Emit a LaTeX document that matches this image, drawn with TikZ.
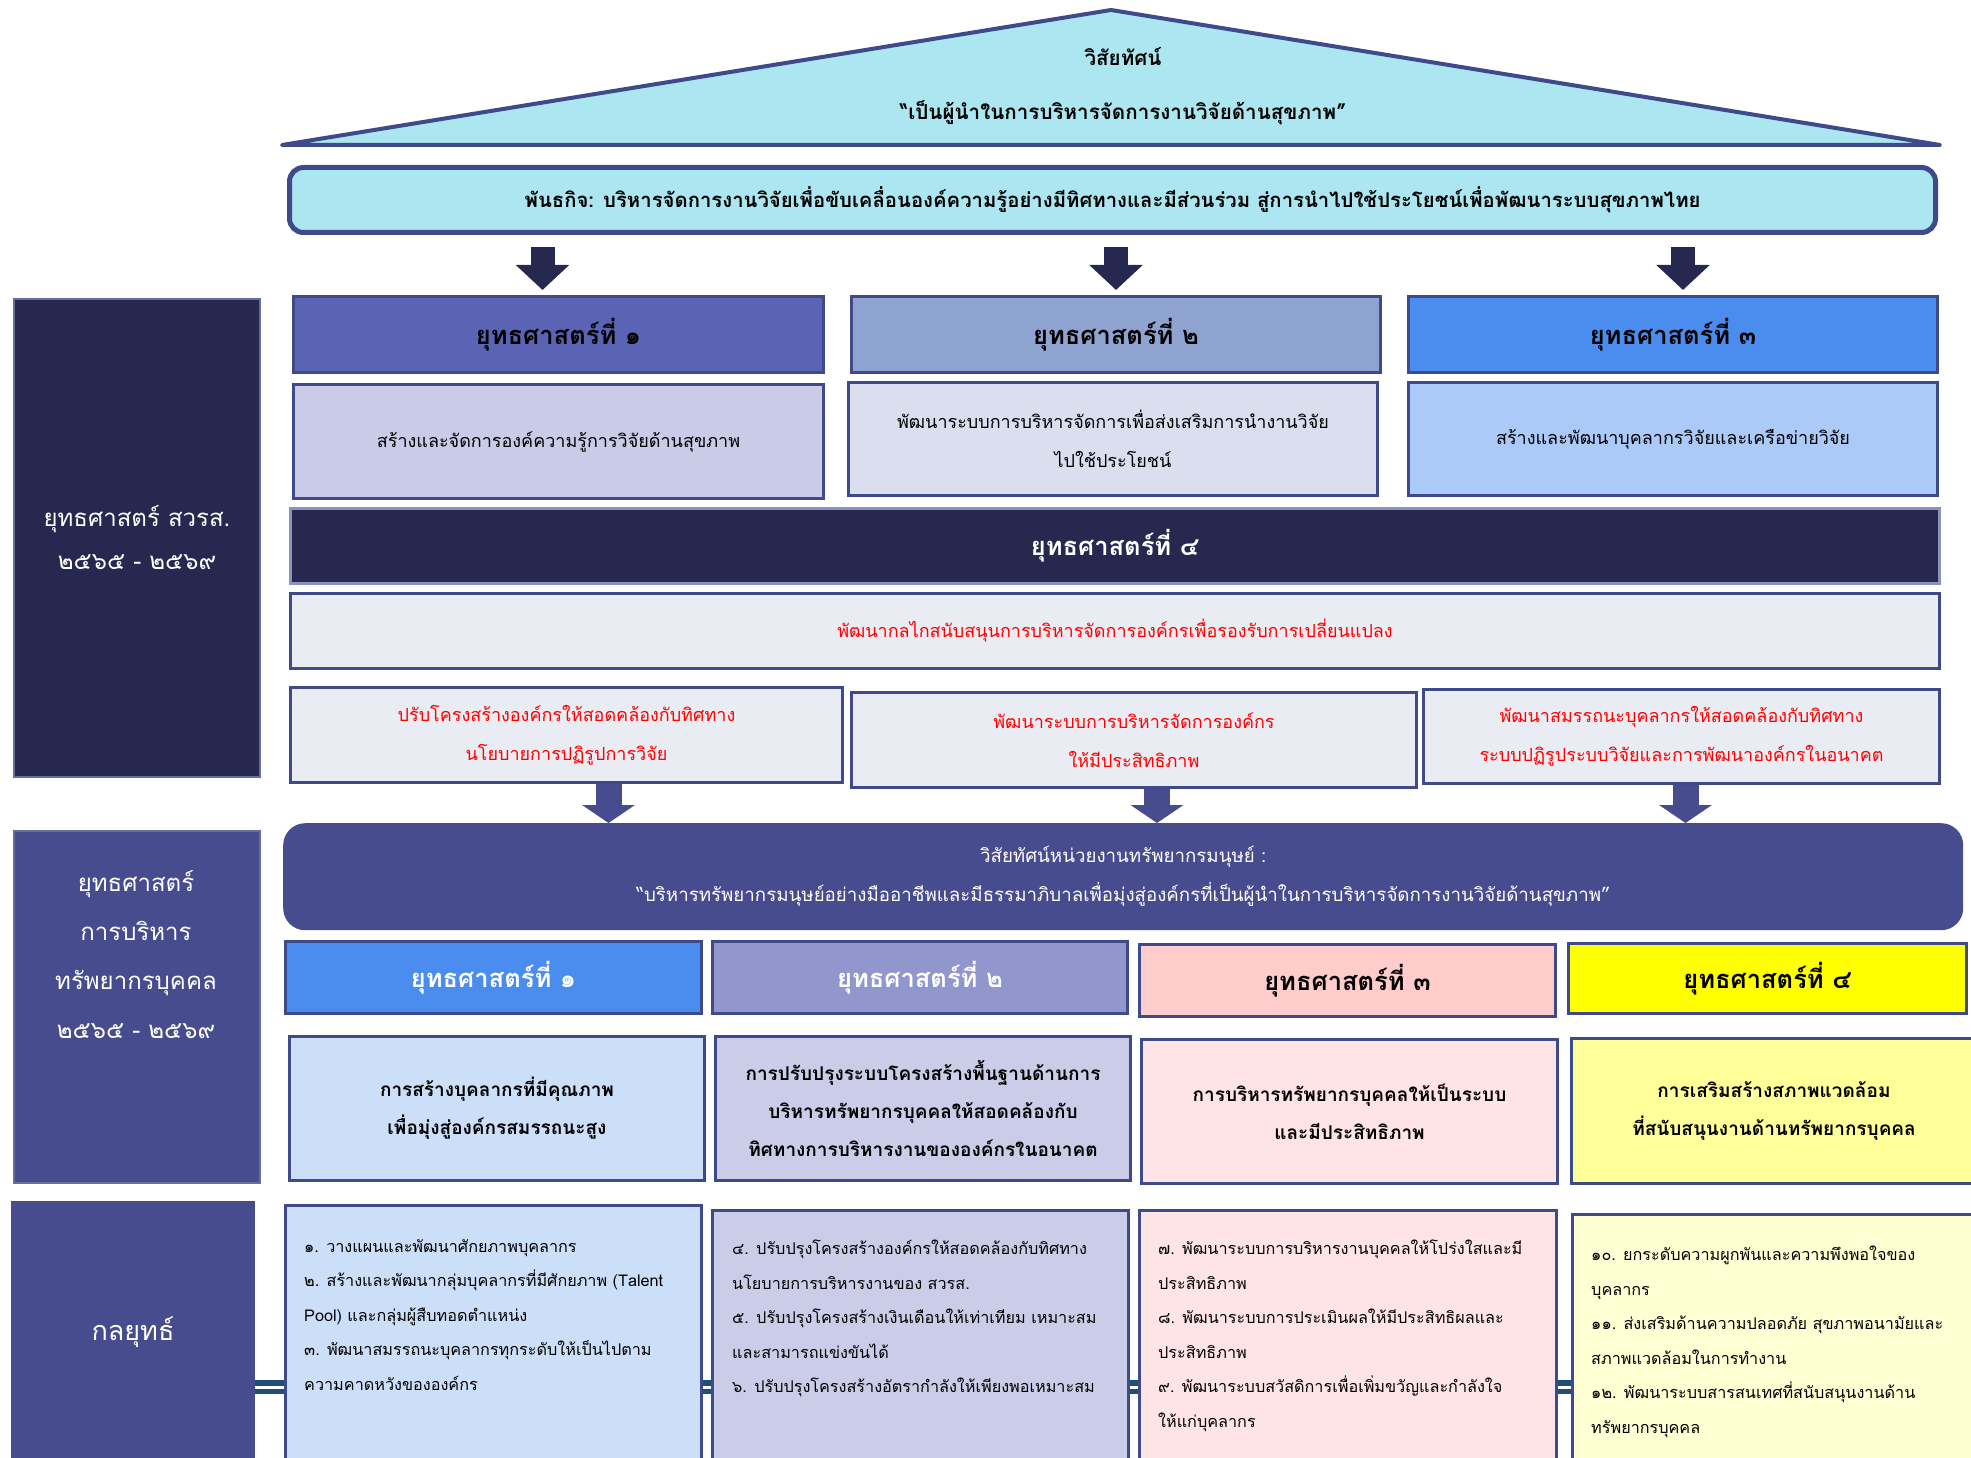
\documentclass[tikz,border=0pt]{standalone}
\usepackage{fontspec}
\setmainfont[Script=Thai]{Loma}
\usetikzlibrary{arrows.meta}

\definecolor{navy}{HTML}{262850}
\definecolor{edge}{HTML}{3F4A8A}
\definecolor{hrblue}{HTML}{464C8E}
\definecolor{sky}{HTML}{ACE6F0}
\definecolor{grey}{HTML}{E9ECF2}
\definecolor{sone}{HTML}{5B63B5}
\definecolor{stwo}{HTML}{8FA3D1}
\definecolor{sthree}{HTML}{4A8DEF}
\definecolor{done}{HTML}{CACBE7}
\definecolor{dtwo}{HTML}{DADFF0}
\definecolor{dthree}{HTML}{ABCAF8}
\definecolor{htwo}{HTML}{9196CD}
\definecolor{hthree}{HTML}{FFCCCC}
\definecolor{hfour}{HTML}{FFFF00}
\definecolor{cone}{HTML}{CCDFF8}
\definecolor{ctwo}{HTML}{CBCCE8}
\definecolor{cthree}{HTML}{FFE4E7}
\definecolor{cfour}{HTML}{FFFF99}
\definecolor{bfour}{HTML}{FFFFD4}
\definecolor{band}{HTML}{1F4E79}

\newcommand{\fs}[2]{\fontsize{#1}{#2}\selectfont}

\begin{document}
\begin{tikzpicture}[x=1pt,y=-1pt,
  box/.style={draw=edge,line width=3pt,anchor=north west,inner sep=0pt,align=center},
  hdr/.style={box,font=\fs{25.5}{30}\bfseries},
  desc/.style={box,font=\fs{18}{39}},
  redbox/.style={box,fill=grey,text=red,font=\fs{18}{39}},
  lbox/.style={anchor=north west,draw=edge!80!white,line width=2pt,inner sep=0pt,
    text=white,align=center,font=\fs{24}{43}},
  item/.style={anchor=north west,align=left,inner sep=0pt,font=\fs{16.2}{34.5}},
  dnarrow/.style={navy,line width=24pt,-{Triangle[width=52pt,length=25pt]}},
  uparrow/.style={hrblue,line width=26pt,-{Triangle[width=52pt,length=18pt]}}]
\useasboundingbox (0,0) rectangle (1971,1458);

% roof
\draw[draw=edge,fill=sky,line width=4pt,line join=round] (282,145) -- (1111,10) -- (1940,145) -- cycle;
\node[font=\fs{20.6}{24}\bfseries] (vis) at (1123,57) {วิสัยทัศน์};
\node[font=\fs{20.6}{24}\bfseries] (visq) at (1123,113) {“เป็นผู้นำในการบริหารจัดการงานวิจัยด้านสุขภาพ”};

% mission
\node[box,rounded corners=14pt,line width=5pt,fill=sky,minimum width=1646pt,minimum height=65pt,
  font=\fs{20.3}{24}\bfseries] (mission) at (287,165)
  {พันธกิจ: บริหารจัดการงานวิจัยเพื่อขับเคลื่อนองค์ความรู้อย่างมีทิศทางและมีส่วนร่วม สู่การนำไปใช้ประโยชน์เพื่อพัฒนาระบบสุขภาพไทย};

% left column
\node[lbox,fill=navy,minimum width=246pt,minimum height=478pt] (lft1) at (13,298)
  {ยุทธศาสตร์ สวรส.\\๒๕๖๕ - ๒๕๖๙};
\node[lbox,fill=hrblue,minimum width=246pt,minimum height=352pt] (lft2) at (13,830) {};
\node[text=white,align=center,font=\fs{24}{49}] (lft2t) at (136,955)
  {ยุทธศาสตร์\\การบริหาร\\ทรัพยากรบุคคล\\๒๕๖๕ - ๒๕๖๙};

% research strategies
\node[hdr,fill=sone,minimum width=530pt,minimum height=76pt] (s1) at (292,295) {ยุทธศาสตร์ที่ ๑};
\node[hdr,fill=stwo,minimum width=529pt,minimum height=76pt] (s2) at (850,295) {ยุทธศาสตร์ที่ ๒};
\node[hdr,fill=sthree,minimum width=529pt,minimum height=76pt] (s3) at (1407,295) {ยุทธศาสตร์ที่ ๓};
\node[desc,fill=done,minimum width=530pt,minimum height=114pt] (d1) at (292,383)
  {สร้างและจัดการองค์ความรู้การวิจัยด้านสุขภาพ};
\node[desc,fill=dtwo,minimum width=529pt,minimum height=113pt] (d2) at (847,381)
  {พัฒนาระบบการบริหารจัดการเพื่อส่งเสริมการนำงานวิจัย\\ไปใช้ประโยชน์};
\node[desc,fill=dthree,minimum width=529pt,minimum height=113pt] (d3) at (1407,381)
  {สร้างและพัฒนาบุคลากรวิจัยและเครือข่ายวิจัย};
\node[hdr,fill=navy,draw=edge!60!white,text=white,minimum width=1649pt,minimum height=75pt] (s4) at (289,507)
  {ยุทธศาสตร์ที่ ๔};
\node[redbox,minimum width=1649pt,minimum height=75pt] (r0) at (289,592)
  {พัฒนากลไกสนับสนุนการบริหารจัดการองค์กรเพื่อรองรับการเปลี่ยนแปลง};
\node[redbox,minimum width=552pt,minimum height=95pt] (r1) at (289,686)
  {ปรับโครงสร้างองค์กรให้สอดคล้องกับทิศทาง\\นโยบายการปฏิรูปการวิจัย};
\node[redbox,minimum width=565pt,minimum height=95pt] (r2) at (850,691)
  {พัฒนาระบบการบริหารจัดการองค์กร\\ให้มีประสิทธิภาพ};
\node[redbox,minimum width=516pt,minimum height=94pt] (r3) at (1422,688)
  {พัฒนาสมรรถนะบุคลากรให้สอดคล้องกับทิศทาง\\ระบบปฏิรูประบบวิจัยและการพัฒนาองค์กรในอนาคต};

\foreach \s/\dx in {s1/-16,s2/0,s3/10}
  \draw[dnarrow] ([xshift=\dx pt,yshift=-12pt]mission.south -| \s.north) -- ([xshift=\dx pt,yshift=5pt]\s.north);

% HR vision
\node[anchor=north west,fill=hrblue,rounded corners=22pt,minimum width=1680pt,minimum height=107pt,
  text=white,align=center,font=\fs{18.7}{39}] (hrvis) at (283,823)
  {วิสัยทัศน์หน่วยงานทรัพยากรมนุษย์ :\\“บริหารทรัพยากรมนุษย์อย่างมืออาชีพและมีธรรมาภิบาลเพื่อมุ่งสู่องค์กรที่เป็นผู้นำในการบริหารจัดการงานวิจัยด้านสุขภาพ”};

\foreach \r/\dx in {r1/42,r2/23,r3/4}
  \draw[uparrow] ([xshift=\dx pt]\r.south) -- ([xshift=\dx pt]\r.south |- hrvis.north);

% HR strategies
\node[hdr,fill=sthree,text=white,minimum width=416pt,minimum height=72pt] (h1) at (284,940) {ยุทธศาสตร์ที่ ๑};
\node[hdr,fill=htwo,text=white,minimum width=415pt,minimum height=72pt] (h2) at (711,940) {ยุทธศาสตร์ที่ ๒};
\node[hdr,fill=hthree,minimum width=416pt,minimum height=72pt] (h3) at (1138,943) {ยุทธศาสตร์ที่ ๓};
\node[hdr,fill=hfour,minimum width=398pt,minimum height=70pt] (h4) at (1567,942) {ยุทธศาสตร์ที่ ๔};
\node[desc,fill=cone,font=\fs{19}{38}\bfseries,minimum width=415pt,minimum height=144pt] (c1) at (288,1035)
  {การสร้างบุคลากรที่มีคุณภาพ\\เพื่อมุ่งสู่องค์กรสมรรถนะสูง};
\node[desc,fill=ctwo,font=\fs{19}{38}\bfseries,minimum width=415pt,minimum height=144pt] (c2) at (714,1035)
  {การปรับปรุงระบบโครงสร้างพื้นฐานด้านการ\\บริหารทรัพยากรบุคคลให้สอดคล้องกับ\\ทิศทางการบริหารงานขององค์กรในอนาคต};
\node[desc,fill=cthree,font=\fs{19}{38}\bfseries,minimum width=416pt,minimum height=144pt] (c3) at (1140,1038)
  {การบริหารทรัพยากรบุคคลให้เป็นระบบ\\และมีประสิทธิภาพ};
\node[desc,fill=cfour,font=\fs{19}{38}\bfseries,minimum width=405pt,minimum height=145pt] (c4) at (1570,1037)
  {การเสริมสร้างสภาพแวดล้อม\\ที่สนับสนุนงานด้านทรัพยากรบุคคล};

% tactics
\fill[band] (255,1380) rectangle (1575,1394);
\fill[white] (255,1386) rectangle (1575,1388.5);
\node[lbox,fill=hrblue,draw=none,font=\fs{27}{30},minimum width=244pt,minimum height=262pt] (lft3) at (10,1200)
  {กลยุทธ์};
\node[box,fill=cone,minimum width=416pt,minimum height=260pt] (b1) at (284,1204) {};
\node[box,fill=ctwo,minimum width=416pt,minimum height=250pt] (b2) at (711,1209) {};
\node[box,fill=cthree,minimum width=417pt,minimum height=255pt] (b3) at (1138,1209) {};
\node[box,fill=bfour,minimum width=405pt,minimum height=250pt] (b4) at (1571,1213) {};
\node[item] (b1t) at (304,1239)
  {๑. วางแผนและพัฒนาศักยภาพบุคลากร\\๒. สร้างและพัฒนากลุ่มบุคลากรที่มีศักยภาพ (Talent\\Pool) และกลุ่มผู้สืบทอดตำแหน่ง\\๓. พัฒนาสมรรถนะบุคลากรทุกระดับให้เป็นไปตาม\\ความคาดหวังขององค์กร};
\node[item] (b2t) at (732,1240)
  {๔. ปรับปรุงโครงสร้างองค์กรให้สอดคล้องกับทิศทาง\\นโยบายการบริหารงานของ สวรส.\\๕. ปรับปรุงโครงสร้างเงินเดือนให้เท่าเทียม เหมาะสม\\และสามารถแข่งขันได้\\๖. ปรับปรุงโครงสร้างอัตรากำลังให้เพียงพอเหมาะสม};
\node[item] (b3t) at (1158,1240)
  {๗. พัฒนาระบบการบริหารงานบุคคลให้โปร่งใสและมี\\ประสิทธิภาพ\\๘. พัฒนาระบบการประเมินผลให้มีประสิทธิผลและ\\ประสิทธิภาพ\\๙. พัฒนาระบบสวัสดิการเพื่อเพิ่มขวัญและกำลังใจ\\ให้แก่บุคลากร};
\node[item] (b4t) at (1591,1246)
  {๑๐. ยกระดับความผูกพันและความพึงพอใจของ\\บุคลากร\\๑๑. ส่งเสริมด้านความปลอดภัย สุขภาพอนามัยและ\\สภาพแวดล้อมในการทำงาน\\๑๒. พัฒนาระบบสารสนเทศที่สนับสนุนงานด้าน\\ทรัพยากรบุคคล};
\end{tikzpicture}
\end{document}
